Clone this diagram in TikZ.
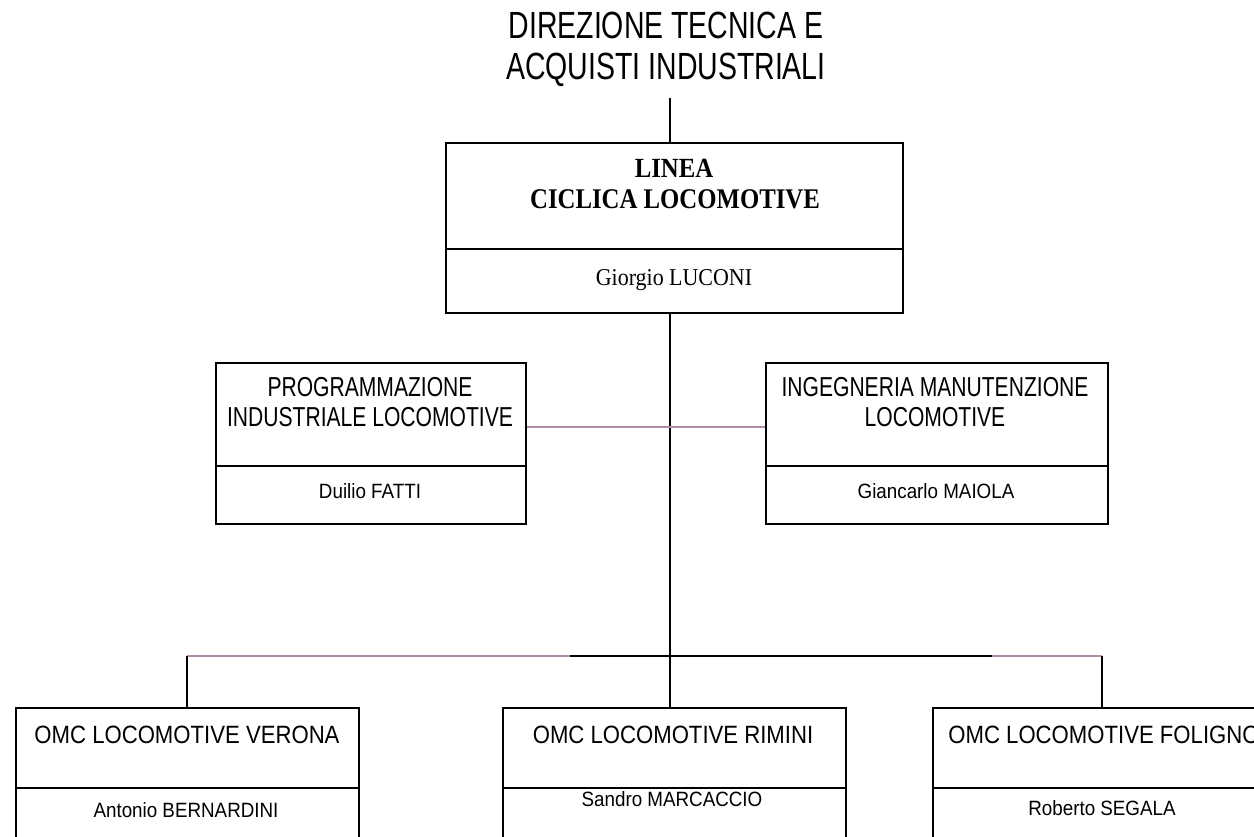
\documentclass[tikz,border=0pt]{standalone}
\usepackage{fontspec}
\usepackage{graphicx}
\setmainfont{Liberation Serif}
\newfontfamily\arialf{Liberation Sans}
\definecolor{pline}{RGB}{176,138,166}
\newcommand{\ystr}[2]{\scalebox{1}[#1]{#2}}
\tikzset{
  box/.style={draw=black, line width=1.1pt, rectangle, inner sep=0pt, anchor=north west},
  conn/.style={draw=black, line width=0.9pt},
  pconn/.style={draw=pline, line width=0.9pt},
  txt/.style={inner sep=0pt, anchor=base},
}
\begin{document}
\begin{tikzpicture}[x=0.02cm, y=-0.02cm]
\useasboundingbox (0,0) rectangle (1254,836);
\clip (0,0) rectangle (1254,836);
% title
\node[txt] (ttla) at (666,38) {\ystr{1.33}{\arialf\fontsize{16.2}{19}\selectfont DIREZIONE TECNICA E}};
\node[txt] (ttlb) at (666,79) {\ystr{1.33}{\arialf\fontsize{16.2}{19}\selectfont ACQUISTI INDUSTRIALI}};
% LINEA box
\node[box, minimum width=9.14cm, minimum height=2.12cm] (lin1) at (445,142) {};
\node[box, minimum width=9.14cm, minimum height=1.28cm] (lin2) at (445,248) {};
\node[txt] (lina) at (674,177) {\ystr{1.12}{\fontsize{14.1}{16}\selectfont\bfseries LINEA}};
\node[txt] (linb) at (675,208) {\ystr{1.15}{\fontsize{14.1}{16}\selectfont\bfseries CICLICA LOCOMOTIVE}};
\node[txt] (linn) at (674,285) {\ystr{1.1}{\fontsize{12.5}{14}\selectfont Giorgio LUCONI}};
% middle boxes
\node[box, minimum width=6.20cm, minimum height=2.06cm] (pro1) at (215,362) {};
\node[box, minimum width=6.20cm, minimum height=1.16cm] (pro2) at (215,465) {};
\node[txt] (proa) at (370,396) {\ystr{1.3}{\arialf\fontsize{12}{14}\selectfont PROGRAMMAZIONE}};
\node[txt] (prob) at (370,426) {\ystr{1.3}{\arialf\fontsize{12}{14}\selectfont INDUSTRIALE LOCOMOTIVE}};
\node[txt] (pron) at (370,498) {\ystr{1.1}{\arialf\fontsize{10.7}{12}\selectfont Duilio FATTI}};
\node[box, minimum width=6.84cm, minimum height=2.06cm] (ing1) at (765,362) {};
\node[box, minimum width=6.84cm, minimum height=1.16cm] (ing2) at (765,465) {};
\node[txt] (inga) at (935,396) {\ystr{1.3}{\arialf\fontsize{12}{14}\selectfont INGEGNERIA MANUTENZIONE}};
\node[txt] (ingb) at (935,426) {\ystr{1.3}{\arialf\fontsize{12}{14}\selectfont LOCOMOTIVE}};
\node[txt] (ingn) at (936,498) {\ystr{1.1}{\arialf\fontsize{10.7}{12}\selectfont Giancarlo MAIOLA}};
% bottom boxes
\node[box, minimum width=6.86cm, minimum height=1.60cm] (ver1) at (15,707) {};
\node[box, minimum width=6.86cm, minimum height=2.00cm] (ver2) at (15,787) {};
\node[box, minimum width=6.86cm, minimum height=1.60cm] (rim1) at (502,707) {};
\node[box, minimum width=6.86cm, minimum height=2.00cm] (rim2) at (502,787) {};
\node[box, minimum width=6.86cm, minimum height=1.60cm] (fol1) at (932,707) {};
\node[box, minimum width=6.86cm, minimum height=2.00cm] (fol2) at (932,787) {};
\node[txt] (vera) at (187,743) {\ystr{1.13}{\arialf\fontsize{12.6}{14}\selectfont OMC LOCOMOTIVE VERONA}};
\node[txt] (rima) at (673,743) {\ystr{1.13}{\arialf\fontsize{12.6}{14}\selectfont OMC LOCOMOTIVE RIMINI}};
\node[txt] (fola) at (1104,743) {\ystr{1.13}{\arialf\fontsize{12.6}{14}\selectfont OMC LOCOMOTIVE FOLIGNO}};
\node[txt] (vern) at (186,817) {\ystr{1.1}{\arialf\fontsize{10.7}{12}\selectfont Antonio BERNARDINI}};
\node[txt] (rimn) at (672,806) {\ystr{1.1}{\arialf\fontsize{10.7}{12}\selectfont Sandro MARCACCIO}};
\node[txt] (foln) at (1102,815) {\ystr{1.1}{\arialf\fontsize{10.7}{12}\selectfont Roberto SEGALA}};
% connector coordinates
\coordinate (t0) at (670,98);
\coordinate (mid) at (670,427);
\coordinate (bus) at (670,656);
\coordinate (b1) at (187,656);
\coordinate (b3) at (1102,656);
\coordinate (bp1) at (570,656);
\coordinate (bp2) at (992,656);
% connectors
\draw[conn] (t0) -- (lin1.north -| t0);
\draw[conn] (lin2.south -| t0) -- (bus);
\draw[conn] (bus) -- (rim1.north -| bus);
\draw[pconn] (pro1.east |- mid) -- (ing1.west |- mid);
\draw[pconn] (b1) -- (bp1);
\draw[conn] (bp1) -- (bp2);
\draw[pconn] (bp2) -- (b3);
\draw[conn] (b1) -- (ver1.north -| b1);
\draw[conn] (b3) -- (fol1.north -| b3);
\end{tikzpicture}
\end{document}
